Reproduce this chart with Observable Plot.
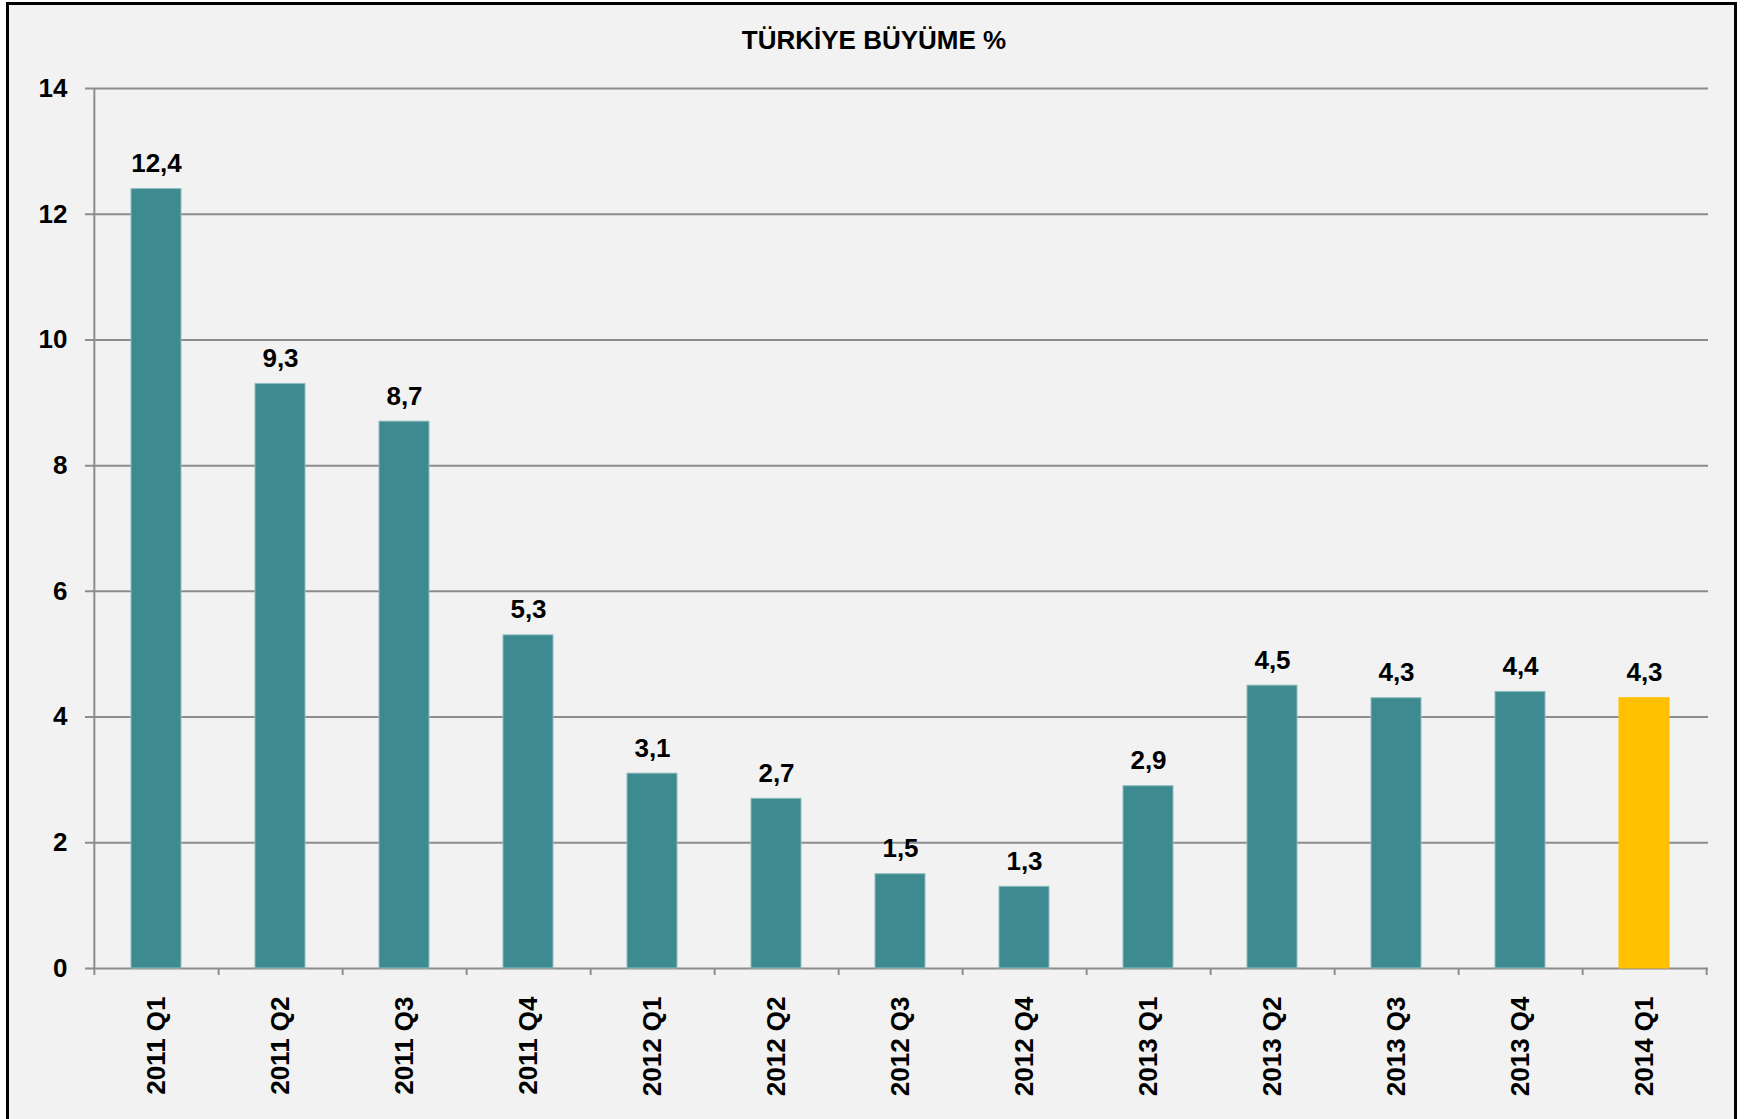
<!DOCTYPE html>
<html><head><meta charset="utf-8">
<script src="https://cdn.jsdelivr.net/npm/d3@7"></script>
<script src="https://cdn.jsdelivr.net/npm/@observablehq/plot@0.6"></script>
<style>
html,body{margin:0;padding:0;background:#fff;overflow:hidden;width:1745px;height:1119px;}
#frame{position:absolute;left:6px;top:2px;width:1725px;height:1140px;border:3px solid #000;background:#f2f2f2;}
#title{position:absolute;left:0;top:27px;width:1748px;text-align:center;font:bold 26px Arial,"Liberation Sans",sans-serif;line-height:26px;color:#000;}
#chart{position:absolute;left:0;top:60px;}
</style></head><body>
<div id="frame"></div>
<div id="title"></div>
<div id="chart"></div>
<script>
const title = "TÜRKİYE BÜYÜME %";
const quarters = ["2011 Q1","2011 Q2","2011 Q3","2011 Q4","2012 Q1","2012 Q2","2012 Q3","2012 Q4","2013 Q1","2013 Q2","2013 Q3","2013 Q4","2014 Q1"];
const growth = [12.4, 9.3, 8.7, 5.3, 3.1, 2.7, 1.5, 1.3, 2.9, 4.5, 4.3, 4.4, 4.3];
const yTicks = [0, 2, 4, 6, 8, 10, 12, 14];
const highlight = "2014 Q1";

const teal = "#3d8b91", tealEdge = "#8fbcc0", gold = "#ffc000", grid = "#8c8c8c";
const data = quarters.map((q, i) => ({q, v: growth[i]}));
const fmt = v => v.toFixed(1).replace(".", ",");

document.getElementById("title").textContent = title;

const W = 1745, H = 1059, mL = 92, mR = 37, mT = 28, mB = 151;
const half = (W - mL - mR) / quarters.length / 2;

const chart = Plot.plot({
  width: W, height: H,
  marginLeft: mL, marginRight: mR, marginTop: mT, marginBottom: mB,
  style: {background: "transparent", fontFamily: 'Arial, "Liberation Sans", sans-serif', fontSize: "26px", fontWeight: "bold", color: "#000", overflow: "visible"},
  x: {domain: quarters, paddingInner: 0.6, paddingOuter: 0.3},
  y: {domain: [0, 14]},
  marks: [
    Plot.ruleY(yTicks, {stroke: grid, strokeWidth: 2, insetLeft: -7}),
    Plot.ruleX([quarters[0]], {x: d => d, dx: -half, y1: 0, y2: 14, insetTop: 7, stroke: grid, strokeWidth: 2}),
    Plot.ruleX(quarters, {x: d => d, dx: half, y1: 0, y2: 0, insetTop: 7, stroke: grid, strokeWidth: 2}),
    Plot.barY(data, {x: "q", y: "v", fill: d => d.q === highlight ? gold : teal, stroke: d => d.q === highlight ? gold : tealEdge, strokeWidth: 1}),
    Plot.text(data, {x: "q", y: "v", text: d => fmt(d.v), dy: -17, lineAnchor: "bottom", fontSize: 26, fontWeight: "bold", fill: "#000"}),
    Plot.axisY({ticks: yTicks, tickSize: 0, tickPadding: 25, fontSize: 26, fontWeight: "bold", label: null, tickFormat: d => String(d)}),
    Plot.axisX({tickSize: 0, tickPadding: 28, rotate: -90, textAnchor: "end", lineAnchor: "middle", fontSize: 26, fontWeight: "bold", label: null})
  ]
});
document.getElementById("chart").appendChild(chart);
</script>
</body></html>
